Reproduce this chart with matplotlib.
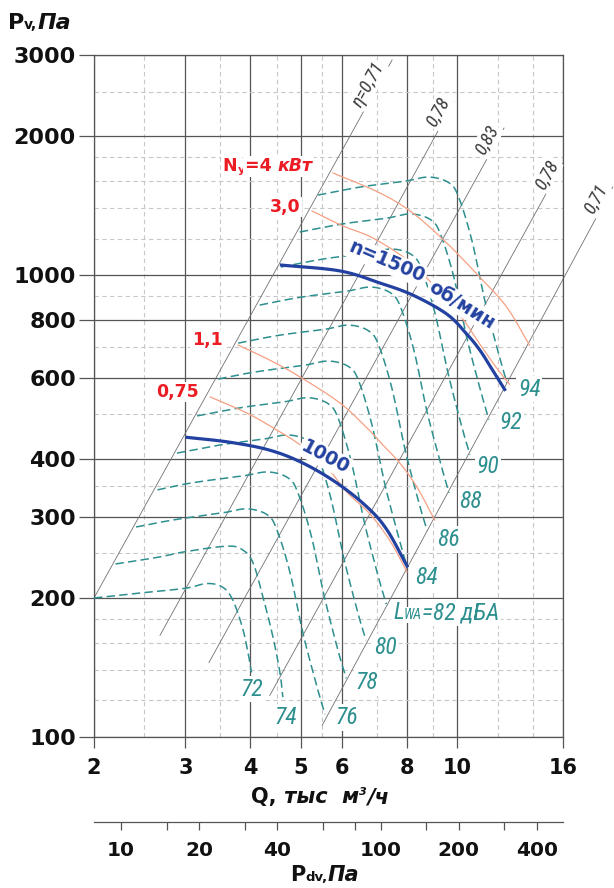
import numpy as np
import matplotlib
matplotlib.use("Agg")
import matplotlib.pyplot as plt
import matplotlib.transforms as mtransforms
from matplotlib import font_manager as fm
from matplotlib.ticker import FixedLocator, NullFormatter

W, H, DPI = 614, 888, 100

# ---------------- axes ----------------
q_major = [2, 3, 4, 5, 6, 8, 10, 16]
q_minor = [2.5, 3.5, 4.5, 5.5, 7, 9, 12, 14]
p_major = [100, 200, 300, 400, 600, 800, 1000, 2000, 3000]
p_minor = [120, 140, 160, 180, 250, 350, 500, 700, 900, 1200, 1400, 1600, 1800, 2500]
pdv_major = [10, 20, 40, 100, 200, 400]
pdv_minor = [15, 30, 60, 80, 150, 300]
pdv_per_q2 = 1.97          # dynamic pressure, Pa per (thous. m3/h)^2

# ---------------- efficiency lines ----------------
eta_labels = ["η=0,71", "0,78", "0,83", "0,78", "0,71"]
eta_q_start = [2.00, 2.68, 3.33, 4.36, 5.50]
eta_p_start = [200, 166, 145, 123, 106]
eta_q_end = [7.50, 9.87, 12.32, 16.0, 19.96]
eta_p_end = [2926, 2374, 2084, 1751, 1554]

# ---------------- speed curves ----------------
n1500_q = [4.56, 5.95, 7.11, 8.22, 9.56, 10.44, 11.06, 11.70, 12.40]
n1500_p = [1053, 1022, 962, 906, 824, 746, 689, 624, 562]
n1000_q = [3.00, 3.65, 4.36, 5.05, 5.87, 6.71, 7.33, 8.04]
n1000_p = [446, 435, 418, 392, 355, 315, 281, 233]

# ---------------- shaft power lines ----------------
ny4_q = [5.77, 7.11, 8.22, 9.56, 11.06, 12.46, 13.79]
ny4_p = [1666, 1507, 1364, 1174, 991, 854, 706]
ny30_q = [5.26, 6.03, 6.89, 8.11, 9.27, 10.23, 11.06, 11.92, 12.62]
ny30_p = [1378, 1279, 1204, 1069, 920, 808, 710, 630, 581]
ny11_q = [3.79, 4.36, 4.99, 5.95, 6.71, 7.20, 7.76, 8.37, 9.06]
ny11_p = [706, 655, 602, 529, 467, 429, 392, 348, 295]
ny075_q = [3.35, 3.94, 4.56, 4.99, 5.57, 6.14, 6.80, 7.43, 8.01]
ny075_p = [545, 503, 458, 429, 388, 339, 304, 266, 228]

# ---------------- sound power level curves, dB(A) ----------------
lw_levels = [72, 74, 76, 78, 80, 82, 84, 86, 88, 90, 92, 94]
lw72_q = [2.00, 2.45, 3.00, 3.30, 3.54, 3.70, 3.86, 3.96, 4.02]
lw72_p = [200, 205, 210, 215, 211, 198, 173, 152, 138]
lw74_q = [2.20, 2.65, 3.00, 3.61, 3.87, 4.05, 4.23, 4.42, 4.56, 4.62]
lw74_p = [237, 245, 252, 259, 254, 238, 201, 165, 138, 122]
lw76_q = [2.41, 2.69, 3.00, 3.55, 3.94, 4.31, 4.50, 4.77, 5.05, 5.38, 5.57]
lw76_p = [285, 292, 298, 306, 312, 303, 281, 227, 168, 128, 112]
lw78_q = [2.65, 2.95, 3.29, 3.89, 4.33, 4.73, 4.94, 5.24, 5.55, 5.90, 6.12]
lw78_p = [343, 352, 359, 368, 375, 364, 338, 273, 202, 154, 134]
lw80_q = [2.89, 3.23, 3.59, 4.25, 4.73, 5.17, 5.40, 5.72, 6.06, 6.45, 6.68]
lw80_p = [412, 422, 431, 442, 451, 438, 406, 328, 243, 185, 162]
lw82_q = [3.16, 3.53, 3.93, 4.65, 5.17, 5.65, 5.91, 6.26, 6.63, 7.05, 7.31]
lw82_p = [496, 508, 519, 532, 543, 527, 489, 394, 292, 223, 194]
lw84_q = [3.47, 3.87, 4.31, 5.10, 5.67, 6.20, 6.48, 6.86, 7.27, 7.74, 8.01]
lw84_p = [596, 611, 623, 639, 652, 633, 587, 474, 351, 268, 234]
lw86_q = [3.79, 4.23, 4.71, 5.57, 6.20, 6.77, 7.08, 7.50, 7.94, 8.45, 8.76]
lw86_p = [713, 731, 746, 764, 780, 757, 702, 567, 420, 321, 280]
lw88_q = [4.17, 4.66, 5.19, 6.14, 6.83, 7.46, 7.80, 8.27, 8.75, 9.32, 9.65]
lw88_p = [862, 884, 902, 924, 943, 915, 849, 685, 508, 388, 338]
lw90_q = [4.58, 5.12, 5.69, 6.74, 7.50, 8.19, 8.56, 9.07, 9.61, 10.22, 10.59]
lw90_p = [1042, 1068, 1090, 1117, 1140, 1107, 1026, 828, 614, 469, 409]
lw92_q = [4.98, 5.57, 6.19, 7.33, 8.15, 8.91, 9.31, 9.87, 10.45, 11.12, 11.52]
lw92_p = [1241, 1272, 1298, 1330, 1358, 1318, 1222, 987, 731, 559, 487]
lw94_q = [5.40, 6.03, 6.71, 7.94, 8.83, 9.66, 10.09, 10.69, 11.32, 12.05, 12.48]
lw94_p = [1492, 1529, 1561, 1599, 1632, 1585, 1470, 1186, 879, 671, 585]

lw_q = [lw72_q, lw74_q, lw76_q, lw78_q, lw80_q, lw82_q,
        lw84_q, lw86_q, lw88_q, lw90_q, lw92_q, lw94_q]
lw_p = [lw72_p, lw74_p, lw76_p, lw78_p, lw80_p, lw82_p,
        lw84_p, lw86_p, lw88_p, lw90_p, lw92_p, lw94_p]

# ---------------- colours ----------------
GRID = "#555555"
MINOR = "#c8c8c8"
TEAL = "#2e8f8f"
ORANGE = "#f6a083"
BLUE = "#2341a0"
RED = "#ec1c24"
ETA = "#707070"
ETA_TXT = "#3a3a3a"

plt.rcParams["font.family"] = ["DejaVu Sans"]

_names = {f.name for f in fm.fontManager.ttflist}


def narrow_italic(size):
    for fam in ("Liberation Sans Narrow", "Roboto Condensed", "Open Sans Condensed"):
        if fam in _names:
            return fm.FontProperties(family=[fam, "DejaVu Sans"], style="italic", size=size)
    if any(f.name == "DejaVu Sans" and str(f.stretch) == "condensed" for f in fm.fontManager.ttflist):
        return fm.FontProperties(family="DejaVu Sans", stretch="condensed", style="oblique", size=size * 0.85)
    return fm.FontProperties(family="DejaVu Sans", style="oblique", size=size * 0.76)


def bold(size, style="normal"):
    return fm.FontProperties(family="DejaVu Sans", weight="bold", style=style, size=size)


WHITE_BOX = dict(boxstyle="square,pad=0.08", fc="white", ec="none")

fig = plt.figure(figsize=(W / DPI, H / DPI), dpi=DPI)
ax = fig.add_axes([94 / W, 1 - 737 / H, (563 - 94) / W, (737 - 55) / H])
ax.set_xscale("log")
ax.set_yscale("log")
ax.set_xlim(q_major[0], q_major[-1])
ax.set_ylim(p_major[0], p_major[-1])
ax.set_xticks(q_major, [str(v) for v in q_major], fontsize=15, fontweight="bold")
ax.set_yticks(p_major, [str(v) for v in p_major], fontsize=16, fontweight="bold")
ax.xaxis.set_minor_locator(FixedLocator(q_minor))
ax.xaxis.set_minor_formatter(NullFormatter())
ax.yaxis.set_minor_locator(FixedLocator(p_minor))
ax.yaxis.set_minor_formatter(NullFormatter())
ax.tick_params(axis="x", which="major", length=8, width=0.9, color=GRID, pad=7, labelcolor="#111111")
ax.tick_params(axis="y", which="major", length=11, width=0.9, color=GRID, pad=2, labelcolor="#111111")
ax.tick_params(which="minor", length=0)
ax.grid(which="major", color=GRID, lw=0.9)
ax.grid(which="minor", color=MINOR, lw=0.8, ls=(0, (4, 3)))
ax.set_axisbelow(True)
for s in ax.spines.values():
    s.set_color(GRID)
    s.set_linewidth(0.9)

# dynamic pressure scale under the flow axis
ax2 = fig.add_axes([94 / W, 1 - 822 / H, (563 - 94) / W, 0.0001])
ax2.set_xscale("log")
ax2.set_xlim(pdv_per_q2 * q_major[0] ** 2, pdv_per_q2 * q_major[-1] ** 2)
ax2.set_xticks(pdv_major, [str(v) for v in pdv_major], fontsize=14.5, fontweight="bold")
ax2.xaxis.set_minor_locator(FixedLocator(pdv_minor))
ax2.xaxis.set_minor_formatter(NullFormatter())
ax2.tick_params(axis="x", which="both", length=6, width=0.9, color=GRID, pad=8,
                direction="out", labelcolor="#111111")
ax2.yaxis.set_visible(False)
for k in ("left", "right", "top"):
    ax2.spines[k].set_visible(False)
ax2.spines["bottom"].set_color(GRID)
ax2.spines["bottom"].set_linewidth(0.9)
ax2.patch.set_visible(False)


def smooth(q, p, n=14):
    """Catmull-Rom curve through the points, built in screen space."""
    pts = ax.transData.transform(np.column_stack([q, p]))
    ext = np.vstack([2 * pts[0] - pts[1], pts, 2 * pts[-1] - pts[-2]])
    t = np.linspace(0, 1, n, endpoint=False)[:, None]
    segs = []
    for i in range(1, len(ext) - 2):
        p0, p1, p2, p3 = ext[i - 1], ext[i], ext[i + 1], ext[i + 2]
        segs.append(0.5 * (2 * p1 + (p2 - p0) * t + (2 * p0 - 5 * p1 + 4 * p2 - p3) * t ** 2
                           + (3 * p1 - p0 - 3 * p2 + p3) * t ** 3))
    segs.append(pts[-1:])
    out = ax.transData.inverted().transform(np.vstack(segs))
    return out[:, 0], out[:, 1]


# efficiency lines (straight in log-log)
eta_t = [0.946, 0.973, 0.969, 0.970, 0.969]
for lab, q0, p0, q1, p1, t in zip(eta_labels, eta_q_start, eta_p_start, eta_q_end, eta_p_end, eta_t):
    ax.plot([q0, q1], [p0, p1], color=ETA, lw=0.6, clip_on=False, zorder=2)
    a = ax.transData.transform([(q0, p0), (q1, p1)])
    ang = np.degrees(np.arctan2(a[1, 1] - a[0, 1], a[1, 0] - a[0, 0]))
    qa = np.exp(np.log(q0) + t * (np.log(q1) - np.log(q0)))
    pa = np.exp(np.log(p0) + t * (np.log(p1) - np.log(p0)))
    ax.text(qa, pa, lab, rotation=ang, rotation_mode="anchor", ha="center", va="bottom",
            fontproperties=narrow_italic(13.5), color=ETA_TXT, bbox=WHITE_BOX, zorder=6,
            clip_on=False)

# sound level curves
for q, p in zip(lw_q, lw_p):
    xs, ys = smooth(q, p)
    ax.plot(xs, ys, color=TEAL, lw=1.1, ls=(0, (5.5, 2.8)), zorder=3)

# shaft power lines
for q, p in [(ny4_q, ny4_p), (ny30_q, ny30_p), (ny11_q, ny11_p), (ny075_q, ny075_p)]:
    xs, ys = smooth(q, p)
    ax.plot(xs, ys, color=ORANGE, lw=0.9, zorder=3.5)

# fan curves
for q, p in [(n1500_q, n1500_p), (n1000_q, n1000_p)]:
    xs, ys = smooth(q, p)
    ax.plot(xs, ys, color=BLUE, lw=2.3, solid_capstyle="butt", zorder=4)


def rich(x, y, pieces, color, ha="left", bbox=None, zorder=7):
    """Run of differently styled text pieces on one baseline, in display pixels."""
    r = fig.canvas.get_renderer()
    made, cursor = [], 0.0
    ident = mtransforms.IdentityTransform()
    for s, fp, dy in pieces:
        t = fig.text(0, 0, s, fontproperties=fp, color=color, va="baseline", ha="left",
                     transform=ident, zorder=zorder)
        if bbox:
            t.set_bbox(bbox)
        made.append((t, cursor, dy))
        cursor += t.get_window_extent(renderer=r).width
    x0 = x - cursor / 2 if ha == "center" else x
    for t, off, dy in made:
        t.set_position((x0 + off, y + dy))


# sound level labels
lw_label_q = [4.03, 4.69, 6.14, 6.71, 7.30, None, 8.72, 9.62, 10.64, 11.48, 12.71, 13.77]
lw_label_p = [127, 110, 110, 131, 156, None, 222, 268, 324, 386, 479, 567]
for lev, ql, pl in zip(lw_levels, lw_label_q, lw_label_p):
    if ql is None:
        continue
    ax.text(ql, pl, str(lev), fontproperties=narrow_italic(17), color=TEAL,
            ha="center", va="center", bbox=WHITE_BOX, zorder=7)
bx, by = ax.transData.transform((7.53, 180))
rich(bx, by, [("L", narrow_italic(17), 0), ("WA", narrow_italic(10), 0),
              ("=82 дБА", narrow_italic(17), 0)], TEAL, bbox=WHITE_BOX)

# power labels
nx, ny = ax.transData.transform((3.54, 1680))
rich(nx, ny, [("N", bold(12.5), 0), ("у", bold(8), -2), ("=4 ", bold(12.5), 0),
              ("кВт", bold(12.5, "italic"), 0)], RED, bbox=WHITE_BOX)
for txt, ql, pl in [("3,0", 4.67, 1406), ("1,1", 3.30, 724), ("0,75", 2.89, 559)]:
    ax.text(ql, pl, txt, fontsize=12.5, fontweight="bold", color=RED, ha="center",
            va="center", bbox=WHITE_BOX, zorder=7)

# speed labels
ax.text(7.33, 1069, "n=1500", rotation=-23, rotation_mode="anchor", ha="center", va="center",
        fontsize=13.5, fontweight="bold", color=BLUE, bbox=WHITE_BOX, zorder=7)
ax.text(10.23, 862, "об/мин", rotation=-32, rotation_mode="anchor", ha="center", va="center",
        fontsize=13.5, fontweight="bold", color=BLUE, bbox=WHITE_BOX, zorder=7)
ax.text(5.57, 404, "1000", rotation=-28, rotation_mode="anchor", ha="center", va="center",
        fontsize=13.5, fontweight="bold", color=BLUE, bbox=WHITE_BOX, zorder=7)

# axis titles
rich(8, H - 29, [("P", bold(16), 0), ("v,", bold(10), 0), ("Па", bold(16, "italic"), 0)], "#111111")
rich(320, H - 803, [("Q,", bold(15), 0), (" тыс  м", bold(15, "italic"), 0),
                    ("3", bold(8, "italic"), 8), ("/ч", bold(15, "italic"), 0)], "#111111", ha="center")
rich(325, H - 881, [("P", bold(15), 0), ("dv,", bold(9.5), 0), ("Па", bold(15, "italic"), 0)],
     "#111111", ha="center")

fig.savefig("out.png", dpi=DPI)
